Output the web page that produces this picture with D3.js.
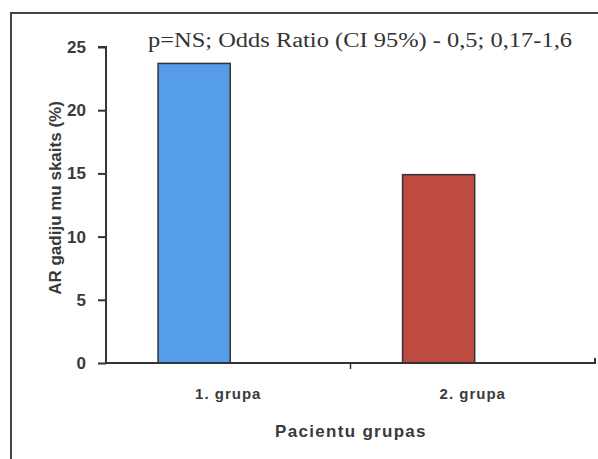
<!DOCTYPE html>
<html>
<head>
<meta charset="utf-8">
<script src="https://cdn.jsdelivr.net/npm/d3@7"></script>
<style>
  body { margin: 0; background: #fff; }
  svg { display: block; }
</style>
</head>
<body>
<svg id="chart" width="598" height="459"></svg>
<script>
// chart values
var groups = ['1. grupa', '2. grupa'];
var values = [23.7, 14.9];
var colors = ['#559de6', '#bf4a40'];
var yTicks = [0, 5, 10, 15, 20, 25];
var title = 'p=NS;  Odds Ratio (CI 95%) - 0,5; 0,17-1,6';

var svg = d3.select('#chart');
var plotL = 106, plotR = 595, plotT = 47, plotB = 363;
var sans = 'Liberation Sans, Arial, sans-serif';

// frame around the chart (only top and left visible)
svg.append('path')
  .attr('d', 'M11,459V13H598')
  .attr('fill', 'none')
  .attr('stroke', '#444')
  .attr('stroke-width', 2);

var x = d3.scaleBand().domain(groups).range([plotL, plotR]);
var y = d3.scaleLinear().domain([0, 25]).range([plotB, plotT]);

// bars sit left of the band centre, as in the original
var bw = x.bandwidth();
svg.selectAll('rect.bar')
  .data(values)
  .enter().append('rect')
  .attr('class', 'bar')
  .attr('x', function(d, i) { return x(groups[i]) + bw * 0.213; })
  .attr('width', bw * 0.295)
  .attr('y', function(d) { return y(d); })
  .attr('height', function(d) { return y(0) - y(d); })
  .attr('fill', function(d, i) { return colors[i]; })
  .attr('stroke', '#333')
  .attr('stroke-width', 1.5);

// y axis
var yAxis = svg.append('g')
  .attr('transform', 'translate(' + plotL + ',0)')
  .call(d3.axisLeft(y).tickValues(yTicks).tickSize(8).tickPadding(12));
yAxis.select('.domain').attr('stroke', '#333').attr('stroke-width', 2)
  .attr('d', 'M-8,' + plotT + 'H0V' + plotB);
yAxis.selectAll('.tick line').attr('stroke', '#333').attr('stroke-width', 2);
yAxis.selectAll('.tick text')
  .attr('fill', '#3a3a3a')
  .style('font-family', sans)
  .style('font-size', '17px')
  .style('font-weight', 'bold');

// x axis
var xAxis = svg.append('g')
  .attr('transform', 'translate(0,' + plotB + ')')
  .call(d3.axisBottom(x).tickSize(0).tickPadding(25));
xAxis.select('.domain').attr('stroke', '#333').attr('stroke-width', 2)
  .attr('d', 'M' + plotL + ',0H' + plotR + 'V-5');
xAxis.selectAll('.tick text')
  .attr('fill', '#3a3a3a')
  .style('font-family', sans)
  .style('font-size', '15px')
  .style('font-weight', 'bold')
  .style('letter-spacing', '1px');
// divider tick between the two groups
xAxis.append('line')
  .attr('x1', x(groups[1])).attr('x2', x(groups[1]))
  .attr('y1', 0).attr('y2', 6)
  .attr('stroke', '#333').attr('stroke-width', 1.5);

// axis titles
svg.append('text')
  .attr('x', 351).attr('y', 437)
  .attr('text-anchor', 'middle')
  .attr('fill', '#3a3a3a')
  .style('font-family', sans)
  .style('font-size', '17px')
  .style('font-weight', 'bold')
  .style('letter-spacing', '1.3px')
  .text('Pacientu grupas');

svg.append('text')
  .attr('transform', 'translate(61,198) rotate(-90)')
  .attr('text-anchor', 'middle')
  .attr('fill', '#3a3a3a')
  .style('font-family', sans)
  .style('font-size', '17px')
  .style('font-weight', 'bold')
  .text('AR gadiju mu skaits (%)');

svg.append('text')
  .attr('x', 148).attr('y', 47)
  .attr('fill', '#333')
  .style('font-family', 'Liberation Serif, Times New Roman, serif')
  .style('font-size', '20px')
  .attr('textLength', 424)
  .attr('lengthAdjust', 'spacingAndGlyphs')
  .text(title);
</script>
</body>
</html>
